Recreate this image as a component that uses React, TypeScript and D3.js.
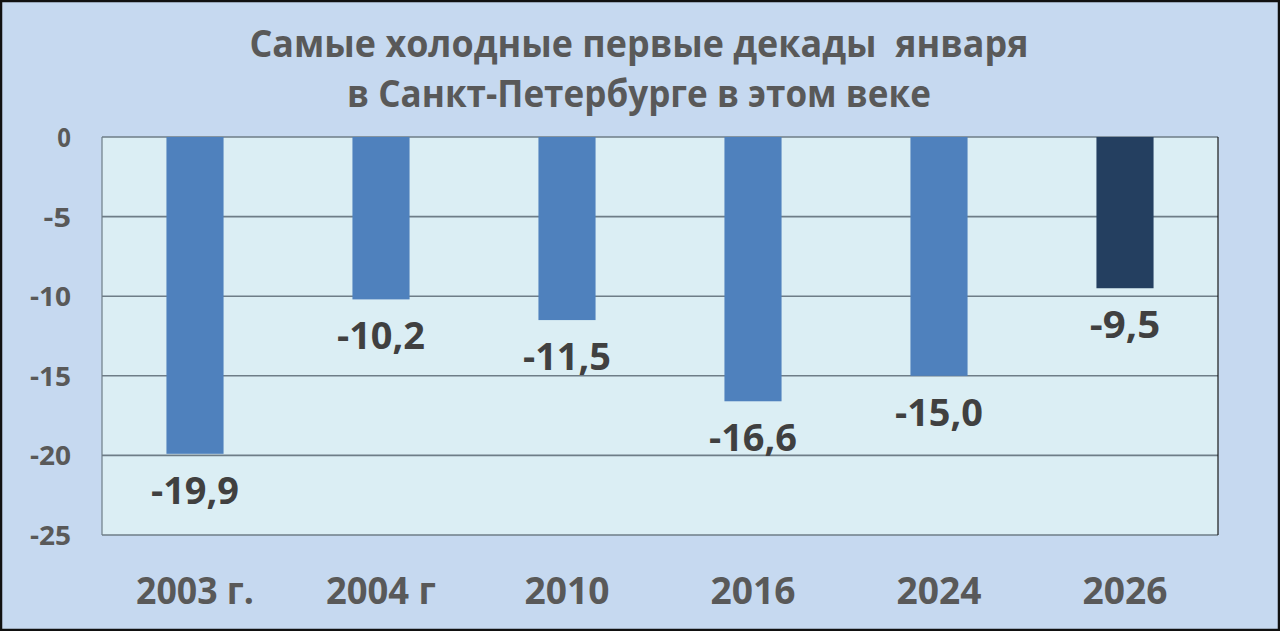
import React from "react";
import * as d3 from "d3";

const categories = ["2003 г.", "2004 г", "2010", "2016", "2024", "2026"];
const values = [-19.9, -10.2, -11.5, -16.6, -15.0, -9.5];
const valueLabels = ["-19,9", "-10,2", "-11,5", "-16,6", "-15,0", "-9,5"];
const yTicks = [0, -5, -10, -15, -20, -25];
const titleLines = ["Самые холодные первые декады  января", "в Санкт-Петербурге в этом веке"];

const W = 1280, H = 631;
const plot = { left: 102, right: 1218, top: 137, bottom: 535 };
const FONT = "'Open Sans', 'Noto Sans', sans-serif";
const TXT = "#595959";

export default function App() {
  const x = d3.scaleBand<string>().domain(categories).range([plot.left, plot.right]).paddingInner(0.693).paddingOuter(0.3465);
  const y = d3.scaleLinear().domain([0, -25]).range([plot.top, plot.bottom]);
  const fmtLen = (s: string, per: number) => s.length * per;
  return (
    <svg width={W} height={H} style={{ position: "fixed", left: 0, top: 0 }} xmlns="http://www.w3.org/2000/svg">
      <rect x={0} y={0} width={W} height={H} fill="#c6d9f0" />
      {titleLines.map((t, i) => (
        <text key={i} x={W / 2 - 1} y={i === 0 ? 57 : 107} textAnchor="middle" fontFamily={FONT} fontWeight={700} fontSize={37} fill={TXT}
          style={{ whiteSpace: "pre" }}
          textLength={i === 0 ? 779 : 584} lengthAdjust="spacingAndGlyphs">{t}</text>
      ))}
      <rect x={plot.left} y={plot.top} width={plot.right - plot.left} height={plot.bottom - plot.top} fill="#dbeef4" />
      {yTicks.map((t) => (
        <line key={t} x1={plot.left} x2={plot.right} y1={y(t)} y2={y(t)} stroke="#6e7d87" strokeWidth={1.6} />
      ))}
      <line x1={plot.left} x2={plot.left} y1={plot.top} y2={plot.bottom} stroke="#6e7d87" strokeWidth={1.2} />
      <line x1={plot.right} x2={plot.right} y1={plot.top} y2={plot.bottom} stroke="#1a1a1a" strokeWidth={1.2} />
      {values.map((v, i) => (
        <rect key={i} x={x(categories[i])} y={y(0)} width={x.bandwidth()} height={y(v) - y(0)}
          fill={i === values.length - 1 ? "#243f60" : "#4f81bd"} />
      ))}
      {values.map((v, i) => (
        <text key={"l" + i} x={(x(categories[i]) as number) + x.bandwidth() / 2} y={y(v) + 50} textAnchor="middle"
          fontFamily={FONT} fontWeight={700} fontSize={37} fill="#404040"
          textLength={fmtLen(valueLabels[i], 17.6)} lengthAdjust="spacingAndGlyphs">{valueLabels[i]}</text>
      ))}
      {yTicks.map((t) => {
        const s = t === 0 ? "0" : String(t);
        return (
          <text key={"t" + t} x={71} y={y(t) + 10} textAnchor="end" fontFamily={FONT} fontWeight={700} fontSize={27} fill={TXT}
            textLength={s.length * 13.7} lengthAdjust="spacingAndGlyphs">{s}</text>
        );
      })}
      {categories.map((c, i) => (
        <text key={"c" + i} x={(x(c) as number) + x.bandwidth() / 2} y={604} textAnchor="middle" fontFamily={FONT} fontWeight={700} fontSize={38} fill={TXT}
          textLength={c === "2003 г." ? 118 : c === "2004 г" ? 110 : 85} lengthAdjust="spacingAndGlyphs">{c}</text>
      ))}
      <rect x={1} y={1} width={W - 2} height={H - 2} fill="none" stroke="#111" strokeWidth={2.5} />
    </svg>
  );
}
